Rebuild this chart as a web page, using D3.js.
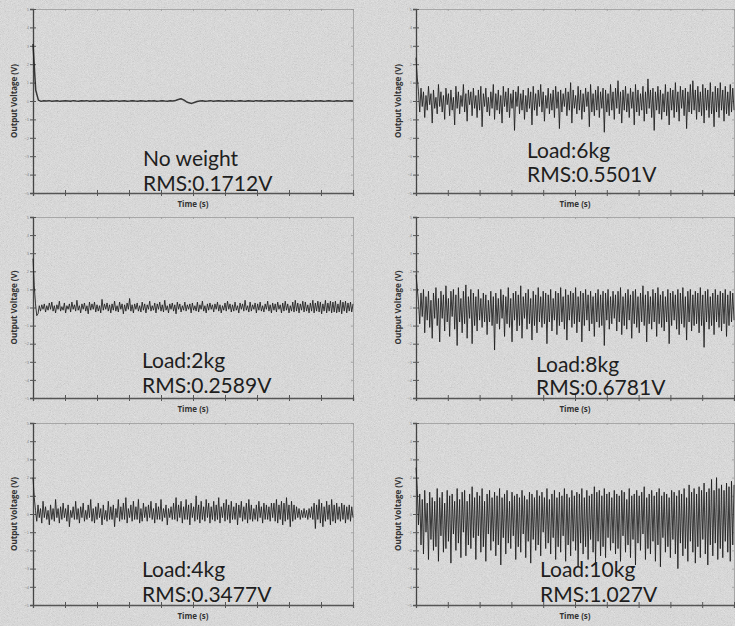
<!DOCTYPE html>
<html>
<head>
<meta charset="utf-8">
<script src="https://cdn.jsdelivr.net/npm/d3@7"></script>
<style>
  body { margin: 0; background: #dcdcdc; }
  svg { display: block; }
</style>
</head>
<body>
<svg id="chart" width="735" height="626"></svg>
<script>
// axis ticks
const timeTicks = [0, 1, 2, 3, 4, 5, 6, 7, 8, 9, 10];
const voltTicks = [-5, -4, -3, -2, -1, 0, 1, 2, 3, 4, 5];

// panel texts, reading order: row by row, left then right
const loadLabels = ["No weight", "Load:6kg", "Load:2kg", "Load:8kg", "Load:4kg", "Load:10kg"];
const rmsLabels = ["RMS:0.1712V", "RMS:0.5501V", "RMS:0.2589V", "RMS:0.6781V", "RMS:0.3477V", "RMS:1.027V"];

const noWeight = [
  3.1, 0.6, 0.05, -0.02, 0.01, 0, 0.02, -0.01, 0, 0.01, -0.02, 0, 0.01, 0, -0.01, 0.02,
  0, -0.01, 0.01, 0, 0.02, -0.01, 0, 0.01, -0.02, 0, 0.01, 0, -0.01, 0.01, 0, 0.02,
  -0.01, 0, 0.01, -0.01, 0, 0.02, 0, -0.01, 0.01, 0, -0.02, 0.01, 0, 0.01, -0.01, 0,
  0.02, 0, -0.01, 0.01, 0, 0.03, 0.08, 0.12, 0.06, -0.04, -0.1, -0.13, -0.08, -0.03, 0, 0.01,
  -0.01, 0, 0.02, -0.01, 0, 0.01, 0, -0.02, 0.01, 0, 0.01, -0.01, 0, 0.02, 0, -0.01,
  0.01, 0, -0.01, 0.02, 0, 0.01, -0.02, 0, 0.01, 0, -0.01, 0.01, 0, 0.02, -0.01, 0,
  0.01, -0.01, 0, 0.02, 0, -0.01, 0.01, 0, -0.02, 0.01, 0, 0.01, -0.01, 0, 0.02, 0,
  -0.01, 0.01, 0, -0.01, 0.02, 0, 0.01, 0
];
const load6 = [
  2.35, 1.3, 0.5, -0.6, 0.7, -0.3, 0.5, -0.9, 0.3, -0.5, 0.8, -0.2, 0.4, -1.2, 0.6, -0.4,
  0.2, -0.7, 0.9, -0.3, 0.5, -0.6, 0.3, -1.0, 0.7, -0.2, 0.4, -0.8, 0.6, -0.5, 0.2, -1.3,
  0.8, -0.4, 0.5, -0.7, 0.3, -0.3, 0.9, -0.6, 0.4, -1.1, 0.6, -0.2, 0.5, -0.8, 0.7, -0.4,
  0.3, -0.9, 0.6, -0.5, 0.8, -1.4, 0.4, -0.3, 0.7, -0.6, 0.2, -0.8, 0.5, -0.4, 0.9, -1.0,
  0.4, -0.5, 0.6, -0.7, 0.3, -1.2, 0.8, -0.3, 0.5, -0.6, 0.7, -0.9, 0.4, -0.4, 0.6, -1.6,
  0.5, -0.3, 0.8, -0.7, 0.4, -0.5, 0.6, -1.0, 0.3, -0.6, 0.7, -0.4, 0.5, -1.3, 0.8, -0.5,
  0.4, -0.8, 0.6, -0.3, 0.9, -0.6, 0.5, -1.1, 0.3, -0.4, 0.7, -0.7, 0.4, -0.5, 0.6, -0.9,
  0.8, -0.4, 0.5, -1.5, 0.6, -0.6, 0.4, -0.3, 0.7, -0.8, 0.5, -0.5, 1.0, -1.2, 0.6, -0.4,
  0.3, -0.7, 0.8, -0.5, 0.6, -1.0, 0.4, -0.6, 0.7, -0.3, 0.5, -1.4, 0.9, -0.6, 0.4, -0.8,
  0.6, -0.5, 0.8, -0.9, 0.5, -0.4, 0.7, -1.7, 0.6, -0.6, 0.4, -0.8, 0.9, -0.5, 0.5, -1.0,
  0.7, -0.4, 1.1, -0.7, 0.5, -1.2, 0.6, -0.5, 0.8, -0.6, 0.4, -0.9, 0.7, -0.4, 0.5, -1.3,
  0.9, -0.6, 0.6, -0.8, 0.4, -0.5, 0.8, -1.1, 0.5, -0.7, 1.2, -0.4, 0.6, -0.9, 0.7, -1.6,
  0.5, -0.5, 0.8, -0.7, 0.6, -1.0, 0.4, -0.6, 0.9, -0.8, 0.5, -1.3, 0.7, -0.5, 0.6, -0.9,
  1.0, -0.6, 0.5, -1.1, 0.8, -0.4, 0.6, -0.8, 0.7, -1.5, 0.5, -0.6, 0.9, -0.7, 1.1, -0.5,
  0.6, -1.0, 0.8, -0.6, 0.5, -0.8, 0.9, -1.2, 0.7, -0.5, 0.6, -0.9, 1.0, -0.7, 0.5, -1.4,
  0.8, -0.6, 0.7, -0.9, 1.0, -0.5, 0.6, -1.1, 0.8, -0.7, 0.5, -0.8, 0.9, -0.6, 0.7, -0.5
];
const load2 = [
  2.7, 1.2, 0.2, -0.45, -0.35, 0.1, -0.2, 0.15, -0.1, 0.2, -0.25, 0.1, -0.15, 0.25, -0.1, 0.3,
  -0.2, 0.1, -0.3, 0.15, -0.1, 0.35, -0.2, 0.05, -0.15, 0.25, -0.3, 0.1, -0.1, 0.2, -0.25, 0.3,
  -0.1, 0.15, -0.2, 0.4, -0.15, 0.1, -0.3, 0.2, -0.1, 0.25, -0.2, 0.1, -0.35, 0.3, -0.15, 0.2,
  -0.1, 0.3, -0.25, 0.15, -0.2, 0.1, -0.3, 0.45, -0.15, 0.2, -0.1, 0.25, -0.2, 0.15, -0.3, 0.2,
  -0.15, 0.35, -0.2, 0.1, -0.25, 0.3, -0.1, 0.2, -0.35, 0.15, -0.2, 0.25, -0.1, 0.5, -0.2, 0.15,
  -0.3, 0.2, -0.1, 0.25, -0.2, 0.1, -0.25, 0.3, -0.15, 0.2, -0.3, 0.15, -0.1, 0.35, -0.2, 0.1,
  -0.15, 0.25, -0.3, 0.2, -0.1, 0.3, -0.2, 0.15, -0.25, 0.4, -0.15, 0.1, -0.3, 0.2, -0.1, 0.25,
  -0.2, 0.15, -0.35, 0.3, -0.1, 0.2, -0.25, 0.1, -0.15, 0.3, -0.2, 0.15, -0.1, 0.2, -0.3, 0.25,
  -0.15, 0.1, -0.2, 0.3, -0.25, 0.15, -0.1, 0.35, -0.2, 0.1, -0.3, 0.2, -0.15, 0.25, -0.1, 0.15,
  -0.25, 0.2, -0.1, 0.3, -0.2, 0.15, -0.3, 0.1, -0.15, 0.25, -0.2, 0.35, -0.1, 0.2, -0.25, 0.15,
  -0.2, 0.3, -0.15, 0.1, -0.3, 0.25, -0.1, 0.2, -0.2, 0.4, -0.15, 0.1, -0.25, 0.3, -0.2, 0.15,
  -0.1, 0.25, -0.3, 0.2, -0.15, 0.3, -0.2, 0.1, -0.25, 0.2, -0.1, 0.35, -0.2, 0.15, -0.3, 0.25,
  -0.15, 0.2, -0.25, 0.3, -0.1, 0.15, -0.3, 0.25, -0.2, 0.35, -0.15, 0.2, -0.3, 0.1, -0.2, 0.3,
  -0.25, 0.4, -0.2, 0.25, -0.3, 0.2, -0.15, 0.35, -0.25, 0.3, -0.2, 0.15, -0.3, 0.25, -0.2, 0.4,
  -0.3, 0.25, -0.2, 0.35, -0.25, 0.3, -0.35, 0.2, -0.2, 0.4, -0.3, 0.25, -0.2, 0.35, -0.3, 0.3,
  -0.25, 0.35, -0.3, 0.2, -0.25, 0.4, -0.35, 0.3, -0.2, 0.35, -0.3, 0.25, -0.2, 0.3, -0.25, 0.2
];
const load8 = [
  1.8, 1.1, 0.3, -0.9, 0.8, -0.5, 1.0, -1.4, 0.6, -0.7, 0.9, -1.1, 0.4, -1.7, 0.8, -0.6,
  1.1, -1.0, 0.5, -1.9, 0.9, -0.6, 0.7, -1.3, 1.2, -0.8, 0.5, -1.6, 0.9, -0.5, 1.0, -1.2,
  0.7, -2.1, 1.1, -0.8, 0.5, -1.4, 0.9, -0.9, 1.25, -1.7, 0.6, -0.6, 1.0, -2.0, 0.8, -1.0,
  0.6, -1.3, 1.0, -0.7, 0.5, -1.1, 0.8, -0.8, 0.7, -1.5, 0.4, -0.8, 0.9, -1.0, 0.6, -2.35,
  0.8, -0.9, 0.5, -1.2, 1.0, -0.6, 0.7, -1.6, 0.6, -0.9, 1.1, -1.1, 0.5, -1.9, 0.8, -0.7,
  0.9, -1.3, 0.7, -1.0, 1.2, -1.7, 0.6, -0.6, 0.8, -1.2, 1.0, -0.9, 0.5, -1.8, 0.9, -1.0,
  0.7, -1.4, 1.1, -0.8, 0.6, -1.1, 0.9, -0.9, 0.8, -2.0, 0.7, -0.8, 1.0, -1.3, 0.5, -0.7,
  0.9, -1.5, 0.8, -1.0, 1.1, -0.8, 0.6, -1.2, 1.0, -1.8, 0.7, -0.7, 0.9, -1.1, 0.8, -0.9,
  1.1, -1.4, 0.6, -0.8, 0.9, -1.9, 0.8, -1.0, 1.0, -0.7, 0.7, -1.3, 0.9, -0.9, 0.6, -1.6,
  0.8, -0.8, 1.0, -1.1, 0.7, -1.0, 0.9, -2.1, 0.8, -0.7, 1.0, -1.2, 0.6, -0.9, 0.9, -0.6,
  0.7, -1.3, 0.9, -0.8, 1.1, -1.5, 0.6, -1.0, 0.8, -1.2, 1.0, -0.7, 0.7, -1.7, 0.9, -0.9,
  1.0, -1.1, 0.6, -1.4, 0.8, -0.8, 1.2, -1.0, 0.7, -1.9, 0.9, -0.9, 0.6, -1.2, 1.0, -0.8,
  0.8, -1.6, 1.1, -0.9, 0.7, -1.1, 0.9, -1.3, 0.6, -0.8, 1.0, -2.0, 0.8, -1.0, 0.9, -0.7,
  0.7, -1.2, 1.0, -1.5, 0.8, -0.9, 1.1, -1.1, 0.6, -1.8, 0.9, -0.8, 1.0, -1.3, 0.7, -1.0,
  0.9, -0.9, 0.8, -1.4, 1.1, -1.0, 0.7, -2.2, 0.9, -0.8, 1.0, -1.2, 0.6, -1.0, 0.8, -1.5,
  1.0, -0.8, 0.7, -1.1, 0.9, -1.3, 0.8, -0.9, 1.0, -1.6, 0.7, -1.0, 0.9, -0.8, 0.8, -0.7
];
const load4 = [
  2.0, 0.9, 0.2, -0.4, 0.5, -0.2, 0.3, -0.5, 0.7, -0.2, 0.4, -0.3, 0.2, -0.6, 0.5, -0.3,
  0.3, -0.4, 0.8, -0.2, 0.3, -0.5, 0.4, -0.3, 0.6, -0.2, 0.3, -0.4, 0.5, -0.7, 0.2, -0.2,
  0.4, -0.3, 0.7, -0.3, 0.3, -0.5, 0.4, -0.2, 0.6, -0.4, 0.2, -0.3, 0.5, -0.2, 0.8, -0.4,
  0.3, -0.5, 0.4, -0.3, 0.6, -0.2, 0.3, -0.6, 0.5, -0.3, 0.2, -0.4, 0.7, -0.3, 0.4, -0.3,
  0.5, -0.7, 0.3, -0.2, 0.8, -0.4, 0.4, -0.3, 0.6, -0.3, 0.9, -0.5, 0.3, -0.2, 0.5, -0.4,
  0.7, -0.3, 0.4, -0.3, 0.8, -0.5, 0.3, -0.4, 0.6, -0.2, 0.4, -0.4, 0.5, -0.2, 0.7, -0.3,
  0.3, -0.5, 0.6, -0.3, 0.4, -0.3, 0.8, -0.4, 0.3, -0.2, 0.5, -0.6, 0.3, -0.2, 0.4, -0.3,
  0.6, -0.3, 0.9, -0.4, 0.5, -0.2, 0.7, -0.5, 0.4, -0.3, 0.8, -0.3, 0.5, -0.6, 0.6, -0.2,
  0.4, -0.4, 1.0, -0.3, 0.5, -0.5, 0.7, -0.3, 0.4, -0.4, 0.8, -0.2, 0.6, -0.5, 0.4, -0.3,
  0.7, -0.4, 0.5, -0.3, 0.9, -0.5, 0.4, -0.2, 0.6, -0.4, 0.8, -0.3, 0.5, -0.5, 0.7, -0.3,
  0.4, -0.3, 0.6, -0.6, 0.5, -0.2, 0.7, -0.4, 0.4, -0.3, 0.6, -0.5, 0.8, -0.3, 0.5, -0.4,
  0.3, -0.3, 0.5, -0.4, 0.7, -0.2, 0.4, -0.5, 0.6, -0.3, 0.5, -0.3, 0.4, -0.4, 0.6, -0.2,
  0.6, -0.4, 0.8, -0.5, 0.5, -0.3, 0.7, -0.6, 0.6, -0.4, 0.9, -0.3, 0.5, -0.7, 0.7, -0.4,
  0.5, -0.3, 0.4, -0.2, 0.3, -0.3, 0.2, -0.2, 0.3, -0.2, 0.2, -0.3, 0.3, -0.2, 0.4, -0.3,
  0.6, -0.8, 0.5, -0.3, 0.8, -0.5, 0.6, -0.7, 0.4, -0.4, 0.7, -0.3, 0.5, -0.6, 0.8, -0.4,
  0.5, -0.5, 0.6, -0.3, 0.4, -0.4, 0.6, -0.3, 0.5, -0.5, 0.4, -0.3, 0.5, -0.4, 0.4, -0.2
];
const load10 = [
  2.55, 1.4, -0.6, 1.1, -1.7, 0.8, -2.2, 1.3, -1.0, 0.6, -2.5, 1.2, -1.4, 0.9, -2.0, 0.7,
  -1.8, 1.4, -2.6, 0.9, -1.2, 1.2, -2.1, 0.6, -1.9, 1.3, -1.5, 1.0, -2.7, 1.1, -1.1, 0.7,
  -2.0, 1.4, -1.6, 0.8, -2.4, 1.2, -1.0, 1.3, -2.3, 0.7, -1.7, 1.1, -1.9, 1.5, -1.3, 0.9,
  -2.5, 1.2, -1.2, 1.0, -2.1, 1.4, -1.8, 0.7, -2.6, 1.1, -1.1, 1.3, -2.0, 0.9, -1.5, 1.2,
  -2.3, 1.0, -1.7, 1.4, -2.8, 0.9, -1.3, 1.1, -2.2, 1.3, -1.6, 0.7, -1.9, 1.2, -1.2, 1.0,
  -2.5, 1.1, -1.8, 0.9, -2.1, 1.3, -1.1, 1.0, -2.4, 0.8, -1.5, 1.2, -2.7, 1.1, -1.4, 0.9,
  -2.0, 1.3, -1.7, 1.0, -2.3, 1.2, -1.0, 0.9, -1.9, 1.4, -1.6, 0.8, -2.2, 1.1, -1.3, 1.3,
  -2.5, 0.9, -1.8, 1.2, -2.1, 1.0, -1.2, 1.4, -2.6, 1.1, -1.7, 0.9, -2.3, 1.3, -1.5, 1.0,
  -2.0, 1.2, -2.9, 1.1, -1.6, 1.4, -2.2, 0.9, -1.8, 1.3, -2.5, 1.0, -1.4, 1.1, -2.1, 1.5,
  -2.7, 1.2, -1.5, 1.3, -2.3, 1.0, -1.8, 1.4, -2.4, 1.1, -1.3, 1.2, -2.0, 0.9, -1.6, 1.3,
  -2.2, 1.1, -1.9, 1.0, -2.6, 1.3, -1.2, 1.2, -2.1, 0.8, -1.7, 1.4, -2.4, 1.0, -1.4, 1.1,
  -2.8, 1.3, -1.6, 1.0, -2.0, 1.2, -1.1, 1.5, -2.5, 0.9, -1.9, 1.1, -2.2, 1.3, -1.5, 1.0,
  -2.6, 1.2, -1.7, 1.4, -2.9, 1.0, -1.3, 1.2, -2.1, 1.1, -1.8, 0.9, -2.4, 1.3, -1.4, 1.2,
  -2.2, 1.0, -3.0, 1.3, -1.6, 1.1, -2.3, 1.4, -1.9, 0.9, -2.6, 1.6, -1.5, 1.2, -2.1, 1.4,
  -2.7, 1.1, -1.8, 1.5, -2.4, 1.3, -1.4, 1.7, -2.2, 1.2, -2.8, 1.4, -1.7, 1.9, -2.3, 1.3,
  -1.6, 2.0, -2.5, 1.4, -1.9, 1.6, -2.4, 1.3, -1.5, 1.7, -2.1, 1.5, -2.6, 1.8, -1.7, 1.6
];
const traces = [noWeight, load6, load2, load8, load4, load10];

// panel frames on the page
const cols = [{ x0: 33, x1: 353, title: 17 }, { x0: 416, x1: 734, title: 401 }];
const rows = [{ y0: 9, y1: 193 }, { y0: 217, y1: 398 }, { y0: 423, y1: 605 }];
const textPos = [
  { x: 143, y1: 166, y2: 191 }, { x: 527, y1: 158, y2: 182 },
  { x: 142, y1: 368, y2: 393 }, { x: 536, y1: 372, y2: 395 },
  { x: 142, y1: 577, y2: 602 }, { x: 540, y1: 577, y2: 602 }
];

const svg = d3.select("#chart");

// scanned paper look
const defs = svg.append("defs");
const grain = defs.append("filter").attr("id", "grain")
  .attr("x", 0).attr("y", 0).attr("width", "100%").attr("height", "100%");
grain.append("feTurbulence").attr("type", "fractalNoise")
  .attr("baseFrequency", 1.3).attr("numOctaves", 1).attr("seed", 7);
grain.append("feColorMatrix").attr("type", "matrix")
  .attr("values", "0.33 0.33 0.33 0 0  0.33 0.33 0.33 0 0  0.33 0.33 0.33 0 0  0 0 0 0 1");

svg.append("rect").attr("width", 735).attr("height", 626).attr("fill", "#ebebeb");
svg.append("rect").attr("width", 735).attr("height", 626)
  .attr("filter", "url(#grain)").attr("opacity", 0.4);

traces.forEach((trace, k) => {
  const c = cols[k % 2], r = rows[Math.floor(k / 2)];
  const g = svg.append("g");

  const x = d3.scaleLinear().domain([0, 10]).range([c.x0, c.x1]);
  const y = d3.scaleLinear().domain([-5, 5]).range([r.y1, r.y0]);
  const dt = 10 / (trace.length - 1);

  // top and right frame, light
  g.append("g").attr("transform", `translate(0,${r.y0})`)
    .call(d3.axisTop(x).tickValues(timeTicks).tickSize(-2).tickFormat(""))
    .call(a => a.selectAll("path, line").attr("stroke", "#9a9a9a").attr("stroke-width", 0.8));
  g.append("g").attr("transform", `translate(${c.x1},0)`)
    .call(d3.axisRight(y).tickValues(voltTicks).tickSize(-2).tickFormat(""))
    .call(a => a.selectAll("path, line").attr("stroke", "#9a9a9a").attr("stroke-width", 0.8));

  // bottom and left axes, dark, ticks crossing the line
  g.append("g").attr("transform", `translate(0,${r.y1})`)
    .call(d3.axisBottom(x).tickValues(timeTicks).tickSize(3).tickFormat(""))
    .call(a => a.selectAll("path").attr("stroke", "#555").attr("stroke-width", 1.3))
    .call(a => a.selectAll("line").attr("stroke", "#555").attr("y1", -3));
  g.append("g").attr("transform", `translate(${c.x0},0)`)
    .call(d3.axisLeft(y).tickValues(voltTicks).tickSize(3).tickPadding(1))
    .call(a => a.selectAll("path").attr("stroke", "#444").attr("stroke-width", 1.3))
    .call(a => a.selectAll("line").attr("stroke", "#555").attr("x1", 3))
    .call(a => a.selectAll("text").attr("font-size", 4).attr("fill", "#888"));
  g.selectAll(".domain").attr("fill", "none");

  // trace
  const line = d3.line().x((d, i) => x(i * dt)).y(d => y(d));
  g.append("path").datum(trace)
    .attr("d", line)
    .attr("fill", "none")
    .attr("stroke", "#1c1c1c")
    .attr("stroke-width", k === 0 ? 1.5 : 1.0)
    .attr("stroke-opacity", 0.85)
    .attr("stroke-linejoin", "round");

  // axis titles
  g.append("text")
    .attr("x", (c.x0 + c.x1) / 2).attr("y", r.y1 + 14)
    .attr("text-anchor", "middle")
    .attr("font-family", "'Open Sans', sans-serif").attr("font-weight", 700)
    .attr("font-size", 8).attr("fill", "#333")
    .text("Time (s)");
  g.append("text")
    .attr("transform", `translate(${c.title},${(r.y0 + r.y1) / 2}) rotate(-90)`)
    .attr("text-anchor", "middle")
    .attr("font-family", "'Open Sans', sans-serif").attr("font-weight", 700)
    .attr("font-size", 8).attr("fill", "#333")
    .text("Output Voltage (V)");

  // load and RMS notes
  const tp = textPos[k];
  g.append("text").attr("x", tp.x).attr("y", tp.y1)
    .attr("font-family", "Lato, sans-serif").attr("font-size", 21).attr("fill", "#1e1e1e")
    .text(loadLabels[k]);
  g.append("text").attr("x", tp.x).attr("y", tp.y2)
    .attr("font-family", "Lato, sans-serif").attr("font-size", 21).attr("fill", "#1e1e1e")
    .text(rmsLabels[k]);
});
</script>
</body>
</html>
